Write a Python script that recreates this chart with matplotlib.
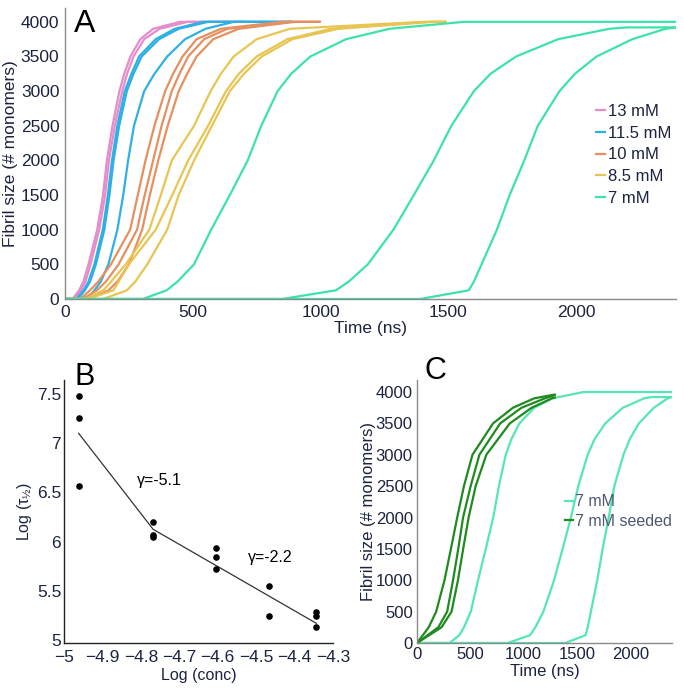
import matplotlib
matplotlib.use("Agg")
from matplotlib import pyplot as plt
from matplotlib.ticker import FuncFormatter
from matplotlib.transforms import ScaledTranslation

plt.rcParams['font.family'] = ['Liberation Sans', 'DejaVu Sans']
plt.rcParams['mathtext.fontset'] = 'custom'
plt.rcParams['mathtext.rm'] = 'Liberation Sans'
plt.rcParams['mathtext.it'] = 'Liberation Sans:italic'

# --- panel A / C: fibril growth curves, time (ns) at which each size level is reached
sizes = [0, 0, 125, 250, 500, 1000, 1500, 2000, 2500, 3000, 3250, 3500, 3750, 3900, 4000, 4000]
sizes_slow = [0, 0, 125, 250, 500, 1000, 1500, 2000, 2500, 3000, 3250, 3500, 3750, 3900, 3920, 3920]

t_13 = [
    [0, 30, 55, 72, 92, 126, 149, 164, 186, 213, 232, 256, 295, 345, 450, 700],
    [0, 38, 62, 80, 100, 134, 157, 172, 195, 224, 243, 268, 310, 370, 480, 700],
]
t_115 = [
    [0, 45, 72, 92, 115, 148, 168, 184, 205, 234, 260, 290, 355, 430, 540, 886],
    [0, 50, 78, 98, 121, 154, 174, 190, 212, 242, 268, 300, 368, 445, 560, 886],
    [0, 86, 115, 140, 170, 205, 228, 247, 270, 310, 350, 400, 470, 550, 660, 886],
]
t_10 = [
    [0, 60, 98, 130, 180, 255, 285, 315, 350, 392, 423, 460, 515, 610, 850, 996],
    [0, 70, 125, 160, 210, 282, 312, 345, 378, 418, 448, 482, 545, 635, 880, 996],
    [0, 90, 170, 205, 250, 302, 332, 365, 402, 445, 478, 515, 580, 680, 900, 996],
]
t_85 = [
    [0, 80, 150, 180, 238, 330, 375, 418, 505, 570, 610, 660, 750, 880, 1400, 1488],
    [0, 90, 189, 210, 250, 355, 420, 482, 560, 630, 680, 750, 870, 1040, 1420, 1488],
    [0, 150, 242, 275, 322, 400, 445, 505, 575, 645, 700, 770, 890, 1070, 1440, 1488],
]
t_7 = [0, 305, 398, 440, 505, 572, 645, 715, 768, 832, 885, 960, 1100, 1270, 1560, 2390]
t_7_slow = [
    [0, 850, 1060, 1110, 1185, 1285, 1365, 1443, 1512, 1600, 1665, 1765, 1930, 2130, 2200, 2390],
    [0, 1390, 1580, 1600, 1630, 1690, 1740, 1797, 1850, 1935, 1995, 2080, 2220, 2350, 2390, 2390],
]

seed_sizes = [
    [0, 250, 500, 1000, 1500, 2000, 2500, 3000, 3500, 3750, 3900, 3960],
    [0, 250, 500, 1000, 1500, 2000, 2500, 3000, 3500, 3750, 3900, 3950],
    [0, 250, 500, 1000, 1500, 2000, 2500, 3000, 3500, 3750, 3900, 3910],
]
t_seed = [
    [0, 110, 180, 258, 318, 377, 440, 520, 713, 900, 1100, 1291],
    [0, 200, 283, 338, 387, 432, 503, 585, 780, 980, 1200, 1291],
    [0, 230, 324, 384, 433, 484, 550, 650, 870, 1075, 1265, 1291],
]

# --- panel B: log concentration vs log half time
log_conc = [-4.962, -4.962, -4.962, -4.768, -4.768, -4.768, -4.605, -4.605, -4.605,
            -4.465, -4.465, -4.343, -4.343, -4.343]
log_thalf = [7.51, 7.29, 6.59, 6.23, 6.10, 6.08, 5.96, 5.87, 5.75,
             5.58, 5.27, 5.32, 5.27, 5.16]
fit_x = [-4.962, -4.768, -4.343]
fit_y = [7.13, 6.155, 5.20]

colors = {'13 mM': '#e58ccb', '11.5 mM': '#2eb0e4', '10 mM': '#e68f5f',
          '8.5 mM': '#e8c552', '7 mM': '#3de3a6'}
navy = '#1c2340'

fig = plt.figure(figsize=(6.84, 6.90), dpi=100)
axA = fig.add_axes([0.095, 0.5667, 0.893, 0.4217])
axB = fig.add_axes([0.0936, 0.0681, 0.393, 0.381])
axC = fig.add_axes([0.6096, 0.0681, 0.3728, 0.381])

lw = 1.6
groups = [('13 mM', t_13), ('11.5 mM', t_115), ('10 mM', t_10), ('8.5 mM', t_85)]
for name, runs in groups:
    for i, ts in enumerate(runs):
        axA.plot(ts, sizes, color=colors[name], lw=lw, label=name if i == 0 else None)
axA.plot(t_7, sizes, color=colors['7 mM'], lw=lw, label='7 mM')
for ts in t_7_slow:
    axA.plot(ts, sizes_slow, color=colors['7 mM'], lw=lw)

axA.set_xlim(0, 2390)
axA.set_ylim(0, 4200)
axA.set_xticks([0, 500, 1000, 1500, 2000])
axA.set_yticks(range(0, 4001, 500))
axA.set_xlabel('Time (ns)', fontsize=12.5, color=navy, labelpad=1)
axA.set_ylabel('Fibril size (# monomers)', fontsize=12.5, color=navy, labelpad=2)
axA.text(0.015, 0.995, 'A', transform=axA.transAxes, fontsize=23, va='top', ha='left')
leg = axA.legend(loc='center left', bbox_to_anchor=(0.87, 0.495), frameon=False,
                 fontsize=12, handlelength=0.5, handletextpad=0.18, labelspacing=0.4,
                 borderaxespad=0, borderpad=0)
for txt in leg.get_texts():
    txt.set_color(navy)

# panel B
axB.scatter(log_conc, log_thalf, s=14, color='black', zorder=3)
axB.plot(fit_x, fit_y, color='#333333', lw=0.9)
axB.text(-4.81, 6.655, 'γ=-5.1', fontsize=11.5, va='center', ha='left')
axB.text(-4.522, 5.87, 'γ=-2.2', fontsize=11.5, va='center', ha='left')
axB.set_xlim(-5, -4.3)
axB.set_ylim(5, 7.67)
axB.set_xticks([-5, -4.9, -4.8, -4.7, -4.6, -4.5, -4.4, -4.3])
axB.set_yticks([5, 5.5, 6, 6.5, 7, 7.5])
fmt = FuncFormatter(lambda v, p: ('%g' % round(v, 2)).replace('-', '\u2212'))
axB.xaxis.set_major_formatter(fmt)
axB.yaxis.set_major_formatter(fmt)
axB.set_xlabel('Log (conc)', fontsize=11.5, color=navy, labelpad=2)
axB.set_ylabel('Log (τ$_{\\mathrm{½}}$)', fontsize=11.5, color=navy, labelpad=2)
axB.text(0.04, 1.07, 'B', transform=axB.transAxes, fontsize=22, va='top', ha='left')

# panel C
c7 = '#55e6b4'
axC.plot(t_7, sizes, color=c7, lw=lw, label='7 mM')
for ts in t_7_slow:
    axC.plot(ts, sizes_slow, color=c7, lw=lw)
for i, ts in enumerate(t_seed):
    axC.plot(ts, seed_sizes[i], color='#1f8a1f', lw=lw,
             label='7 mM seeded' if i == 0 else None)
axC.set_xlim(0, 2390)
axC.set_ylim(0, 4190)
axC.set_xticks([0, 500, 1000, 1500, 2000])
axC.set_yticks(range(0, 4001, 500))
axC.set_xlabel('Time (ns)', fontsize=12, color=navy, labelpad=1)
axC.set_ylabel('Fibril size (# monomers)', fontsize=12, color=navy, labelpad=0)
axC.text(0.03, 1.09, 'C', transform=axC.transAxes, fontsize=22, va='top', ha='left')
legC = axC.legend(loc='center left', bbox_to_anchor=(0.58, 0.5), frameon=False,
                  fontsize=11.5, handlelength=0.5, handletextpad=0.15, labelspacing=0.3,
                  borderaxespad=0, borderpad=0)
for txt in legC.get_texts():
    txt.set_color('#4d5673')

for ax, spc in [(axA, '#8a8a8a'), (axB, '#222222'), (axC, '#8a8a8a')]:
    for side in ['top', 'right']:
        ax.spines[side].set_visible(False)
    for side in ['left', 'bottom']:
        ax.spines[side].set_color(spc)
        ax.spines[side].set_linewidth(1.0)
axA.tick_params(length=0, labelsize=12.5, labelcolor=navy, pad=4)
axB.tick_params(axis='y', length=0, labelsize=12.5, labelcolor=navy, pad=2)
axB.tick_params(axis='x', length=0, labelsize=12.5, labelcolor=navy, pad=5)
axC.tick_params(length=0, labelsize=12, labelcolor=navy, pad=3)

# the reference sits panel B's y labels a touch above their ticks
lift = ScaledTranslation(0, 3 / 100, fig.dpi_scale_trans)
for lab in axB.get_yticklabels():
    lab.set_transform(lab.get_transform() + lift)

fig.savefig('out.png', dpi=100)
